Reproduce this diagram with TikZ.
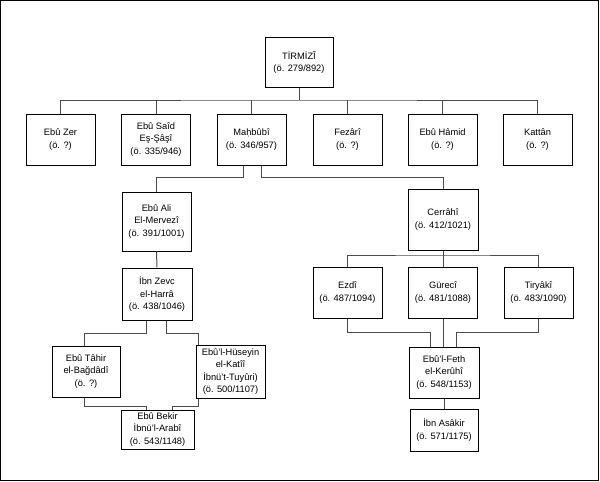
\documentclass[tikz,border=0pt]{standalone}
\usepackage{fontspec}
\setmainfont{Liberation Sans}
\begin{document}
\begin{tikzpicture}[x=1pt,y=-1pt,
  pbox/.style={draw=black,line width=1pt,inner sep=0pt,align=center,
    font=\fontsize{9.3}{12.2}\selectfont,minimum width=69pt,minimum height=51pt},
  conn/.style={draw=black!70,line width=1pt}]
\useasboundingbox (0,0) rectangle (600,482);
\draw[line width=1.4pt] (0.7,0.7) rectangle (598.6,480.4);
% nodes
\node[pbox,minimum width=68pt,minimum height=50pt] (tirmizi) at (299,62) {TİRMİZÎ\\(ö. 279/892)};
\node[pbox] (ebuzer)   at (60.5,139.5) {Ebû Zer\\(ö. ?)};
\node[pbox] (ebusaid)  at (156,139.5) {Ebû Saîd\\Eş-Şâşî\\(ö. 335/946)};
\node[pbox] (mahbubi)  at (251.5,139.5) {Maḥbûbî\\(ö. 346/957)};
\node[pbox] (fezari)   at (347.5,139.5) {Fezârî\\(ö. ?)};
\node[pbox] (ebuhamid) at (442.5,139.5) {Ebû Hâmid\\(ö. ?)};
\node[pbox] (kattan)   at (537.5,139.5) {Kattân\\(ö. ?)};
\node[pbox,minimum height=59pt] (ebuali) at (156.5,221.5) {Ebû Ali\\El-Mervezî\\(ö. 391/1001)};
\node[pbox,minimum width=70pt,minimum height=61pt] (cerrahi) at (443,219.5) {Cerrâhî\\(ö. 412/1021)};
\node[pbox,minimum width=70pt,minimum height=52pt] (ibnzevc) at (157,294) {İbn Zevc\\el-Harrâ\\(ö. 438/1046)};
\node[pbox] (ezdi)    at (347.5,292.5) {Ezdî\\(ö. 487/1094)};
\node[pbox] (gureci)  at (443,292.5) {Gürecî\\(ö. 481/1088)};
\node[pbox] (tiryaki) at (538.5,292.5) {Tiryâkî\\(ö. 483/1090)};
\node[pbox,minimum width=70pt] (ebulfeth) at (444,372.5) {Ebû'l-Feth\\el-Kerûhî\\(ö. 548/1153)};
\node[pbox,minimum width=68pt,minimum height=42pt] (ibnasakir) at (444,430) {İbn Asâkir\\(ö. 571/1175)};
\node[pbox,minimum width=68pt] (ebutahir) at (86,371.5) {Ebû Tâhir\\el-Bağdâdî\\(ö. ?)};
\node[pbox,minimum height=53pt] (ebulhuseyin) at (230.5,371.5) {Ebû'l-Hüseyin\\el-Katîî\\İbnü't-Tuyûri)\\(ö. 500/1107)};
\node[pbox,minimum width=73pt,minimum height=39pt] (ebubekir) at (157.5,429.5) {Ebû Bekir\\İbnü'l-Arabî\\(ö. 543/1148)};
% connectors
\coordinate (bus) at (299,100);
\draw[conn] (tirmizi.south) -- (bus);
\draw[conn] (ebuzer.north) |- (bus) -| (kattan.north);
\draw[conn] (ebusaid.north) -- (ebusaid.north |- bus);
\draw[conn] (mahbubi.north) -- (mahbubi.north |- bus);
\draw[conn] (fezari.north) -- (fezari.north |- bus);
\draw[conn] (ebuhamid.north) -- (ebuhamid.north |- bus);
\draw[conn] ([xshift=-8.5pt]mahbubi.south) -- ++(0,12) -| (ebuali.north);
\draw[conn] ([xshift=9.5pt]mahbubi.south) -- ++(0,12) -| (cerrahi.north);
\draw[conn] (ebuali.south) -- (ibnzevc.north);
\coordinate (bus2) at (443,255);
\draw[conn] (cerrahi.south) -- (bus2);
\draw[conn] (ezdi.north) |- (bus2) -| (tiryaki.north);
\draw[conn] (gureci.north) -- (gureci.north |- bus2);
\draw[conn] (ezdi.south) -- ++(0,14) -| ([xshift=-14pt]ebulfeth.north);
\draw[conn] (gureci.south) -- (gureci.south |- ebulfeth.north);
\draw[conn] (tiryaki.south) -- ++(0,14) -| ([xshift=12pt]ebulfeth.north);
\draw[conn] (ebulfeth.south) -- (ibnasakir.north);
\draw[conn] ([xshift=-11pt]ibnzevc.south) -- ++(0,13) -| ([xshift=-2pt]ebutahir.north);
\draw[conn] ([xshift=9pt]ibnzevc.south) -- ++(0,13) -| ([xshift=-32pt]ebulhuseyin.north);
\draw[conn] ([xshift=-2pt]ebutahir.south) -- ++(0,9) -| ([xshift=-11.5pt]ebubekir.north);
\draw[conn] ([xshift=-32pt]ebulhuseyin.south) -- ++(0,8) -| ([xshift=14.5pt]ebubekir.north);
\end{tikzpicture}
\end{document}
